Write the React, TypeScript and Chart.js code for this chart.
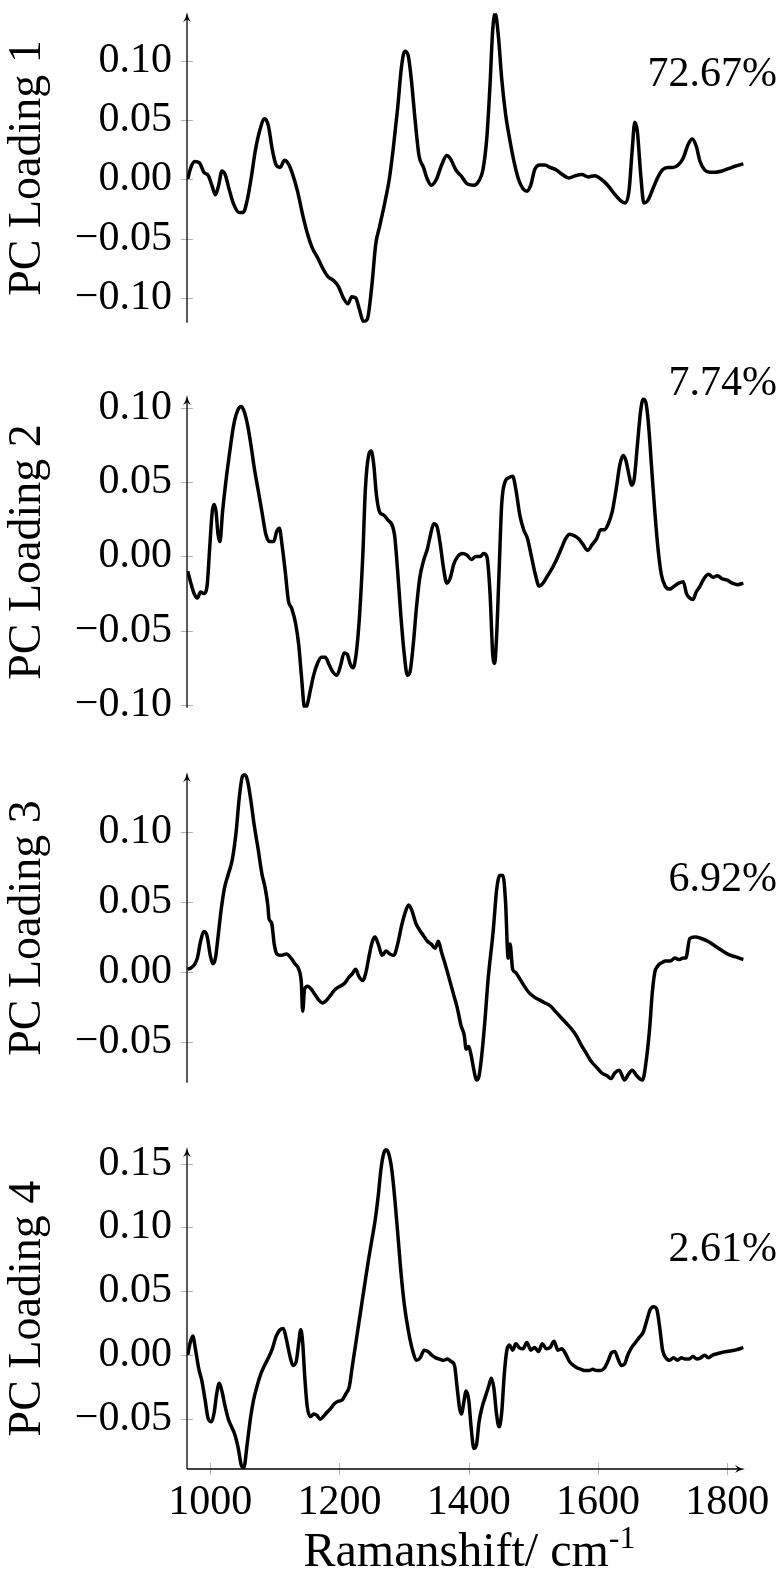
import React, { useEffect, useRef } from "react";
import { Chart, registerables } from "chart.js";

Chart.register(...registerables);

// ---------- data (Raman shift in cm^-1, PC loadings) ----------
const pc1Shift = [965,970,976,983,990,997,1003,1008,1013,1018,1023,1030,1037,1045,1051,1057,1063,1070,1077,1084,1090,1096,1102,1108,1115,1121,1127,1135,1143,1150,1158,1166,1174,1182,1190,1198,1206,1213,1219,1225,1231,1237,1243,1250,1256,1262,1270,1277,1283,1290,1296,1301,1306,1311,1317,1323,1330,1336,1342,1350,1358,1366,1372,1380,1388,1398,1408,1415,1422,1428,1433,1437,1441,1446,1451,1457,1463,1470,1477,1484,1490,1496,1502,1510,1518,1526,1535,1545,1555,1565,1575,1585,1595,1605,1615,1625,1635,1642,1648,1653,1657,1661,1666,1671,1677,1685,1693,1700,1708,1716,1724,1732,1740,1746,1752,1758,1765,1773,1782,1792,1802,1812,1825];
const pc1Loading = [0.000,0.010,0.015,0.014,0.006,0.003,-0.006,-0.013,-0.005,0.007,0.004,-0.010,-0.022,-0.028,-0.028,-0.018,0.000,0.025,0.042,0.051,0.045,0.025,0.012,0.010,0.016,0.013,0.005,-0.010,-0.030,-0.045,-0.058,-0.066,-0.075,-0.082,-0.085,-0.090,-0.100,-0.105,-0.099,-0.100,-0.110,-0.120,-0.118,-0.090,-0.055,-0.040,-0.020,0.000,0.025,0.060,0.095,0.108,0.105,0.085,0.050,0.020,0.010,0.000,-0.005,0.000,0.012,0.020,0.017,0.008,0.003,-0.004,-0.005,-0.002,0.008,0.035,0.080,0.125,0.140,0.120,0.085,0.055,0.035,0.015,0.000,-0.008,-0.010,-0.005,0.008,0.012,0.012,0.010,0.008,0.004,0.001,0.003,0.004,0.002,0.003,0.000,-0.005,-0.012,-0.018,-0.020,-0.010,0.025,0.048,0.040,0.005,-0.020,-0.018,-0.008,0.002,0.008,0.010,0.010,0.012,0.018,0.030,0.034,0.028,0.015,0.008,0.006,0.006,0.007,0.009,0.011,0.013];

const pc2Shift = [965,970,975,980,985,990,995,999,1003,1006,1009,1012,1015,1019,1024,1030,1036,1042,1048,1053,1058,1063,1068,1074,1080,1086,1092,1098,1103,1107,1111,1116,1121,1126,1132,1137,1141,1146,1150,1155,1160,1166,1172,1178,1184,1190,1196,1202,1207,1212,1217,1221,1226,1231,1236,1240,1245,1249,1253,1257,1262,1268,1274,1285,1290,1295,1300,1305,1309,1314,1319,1324,1330,1336,1341,1346,1351,1356,1361,1366,1371,1377,1383,1390,1397,1404,1411,1418,1423,1428,1433,1437,1440,1443,1447,1451,1456,1462,1468,1473,1479,1485,1491,1497,1503,1509,1515,1522,1529,1536,1543,1550,1556,1563,1570,1577,1584,1591,1598,1604,1610,1616,1622,1628,1634,1639,1643,1648,1652,1656,1661,1666,1670,1674,1678,1683,1688,1693,1698,1704,1711,1718,1725,1732,1737,1742,1747,1752,1758,1764,1771,1778,1785,1792,1800,1808,1816,1825];
const pc2Loading = [-0.010,-0.018,-0.025,-0.028,-0.024,-0.025,-0.020,0.005,0.030,0.035,0.030,0.015,0.010,0.030,0.050,0.070,0.088,0.098,0.101,0.097,0.088,0.075,0.060,0.045,0.030,0.015,0.010,0.010,0.017,0.019,0.008,-0.010,-0.030,-0.035,-0.045,-0.060,-0.080,-0.102,-0.100,-0.090,-0.080,-0.072,-0.068,-0.068,-0.073,-0.078,-0.080,-0.073,-0.065,-0.066,-0.073,-0.075,-0.065,-0.040,0.000,0.045,0.068,0.071,0.062,0.042,0.030,0.028,0.025,0.015,-0.010,-0.040,-0.065,-0.080,-0.078,-0.060,-0.035,-0.015,-0.003,0.005,0.015,0.022,0.020,0.008,-0.008,-0.018,-0.015,-0.005,0.000,0.002,0.001,-0.002,0.000,0.000,0.002,0.000,-0.025,-0.065,-0.072,-0.055,-0.010,0.035,0.050,0.053,0.054,0.045,0.028,0.018,0.012,0.000,-0.012,-0.020,-0.018,-0.013,-0.008,-0.002,0.005,0.012,0.015,0.014,0.012,0.008,0.004,0.008,0.012,0.018,0.018,0.022,0.030,0.045,0.062,0.068,0.065,0.055,0.048,0.052,0.075,0.098,0.106,0.104,0.090,0.060,0.030,0.005,-0.012,-0.020,-0.022,-0.020,-0.018,-0.017,-0.025,-0.028,-0.029,-0.024,-0.020,-0.015,-0.012,-0.014,-0.013,-0.015,-0.016,-0.018,-0.019,-0.018];

const pc3Shift = [965,970,975,980,985,990,995,1000,1004,1008,1012,1017,1022,1028,1034,1040,1045,1050,1054,1058,1063,1068,1074,1080,1085,1089,1091,1095,1099,1103,1110,1118,1125,1131,1137,1141,1143,1146,1151,1156,1162,1168,1174,1180,1187,1194,1201,1208,1214,1220,1225,1230,1236,1241,1246,1251,1255,1260,1266,1272,1278,1284,1290,1296,1302,1307,1312,1318,1324,1330,1336,1342,1348,1353,1358,1364,1370,1376,1382,1388,1393,1396,1400,1404,1408,1412,1416,1420,1425,1430,1438,1443,1448,1453,1457,1461,1464,1468,1472,1478,1486,1494,1502,1510,1518,1526,1534,1542,1550,1558,1566,1574,1582,1590,1598,1606,1614,1620,1626,1633,1641,1647,1653,1660,1669,1675,1680,1684,1688,1692,1696,1700,1704,1712,1719,1726,1732,1736,1742,1750,1760,1770,1780,1790,1800,1812,1825];
const pc3Loading = [0.002,0.003,0.005,0.010,0.022,0.029,0.026,0.012,0.006,0.010,0.025,0.045,0.060,0.070,0.080,0.100,0.125,0.140,0.141,0.136,0.122,0.105,0.088,0.070,0.060,0.048,0.038,0.035,0.020,0.013,0.012,0.013,0.010,0.006,0.002,-0.008,-0.028,-0.012,-0.010,-0.012,-0.016,-0.020,-0.022,-0.020,-0.016,-0.012,-0.010,-0.008,-0.004,-0.001,0.002,-0.003,-0.006,0.000,0.012,0.022,0.025,0.020,0.012,0.015,0.013,0.012,0.020,0.033,0.043,0.048,0.044,0.035,0.030,0.026,0.022,0.020,0.017,0.022,0.014,0.005,-0.005,-0.015,-0.025,-0.038,-0.045,-0.055,-0.053,-0.060,-0.070,-0.077,-0.074,-0.060,-0.035,-0.005,0.030,0.058,0.069,0.069,0.050,0.010,0.020,0.002,0.000,-0.004,-0.010,-0.015,-0.018,-0.020,-0.022,-0.024,-0.028,-0.032,-0.036,-0.040,-0.045,-0.052,-0.058,-0.064,-0.068,-0.072,-0.074,-0.076,-0.072,-0.070,-0.077,-0.073,-0.070,-0.074,-0.077,-0.062,-0.040,-0.015,0.000,0.004,0.006,0.007,0.008,0.008,0.010,0.009,0.010,0.010,0.024,0.025,0.024,0.022,0.019,0.016,0.013,0.011,0.009,0.007,0.005];

const pc4Shift = [965,969,973,977,982,987,992,997,1002,1006,1010,1014,1018,1023,1028,1033,1038,1043,1048,1052,1057,1062,1067,1072,1078,1084,1090,1096,1102,1108,1113,1118,1123,1128,1133,1137,1140,1143,1146,1150,1155,1160,1165,1170,1175,1180,1186,1192,1198,1204,1210,1215,1220,1226,1232,1238,1244,1250,1255,1260,1264,1268,1272,1276,1281,1286,1291,1296,1301,1307,1313,1319,1325,1331,1337,1343,1349,1355,1361,1367,1373,1378,1382,1386,1389,1392,1396,1400,1404,1408,1412,1416,1421,1426,1431,1435,1439,1443,1447,1451,1455,1459,1463,1468,1473,1478,1484,1490,1496,1502,1508,1514,1520,1526,1532,1538,1544,1550,1556,1562,1568,1574,1580,1586,1592,1598,1604,1610,1616,1621,1626,1631,1636,1641,1646,1652,1658,1664,1670,1676,1681,1686,1691,1696,1700,1705,1711,1717,1723,1729,1735,1741,1747,1753,1759,1765,1771,1777,1783,1790,1800,1812,1825];
const pc4Loading = [0.000,0.010,0.015,0.005,-0.010,-0.020,-0.035,-0.050,-0.052,-0.045,-0.030,-0.022,-0.028,-0.040,-0.050,-0.056,-0.062,-0.072,-0.086,-0.088,-0.070,-0.050,-0.035,-0.025,-0.015,-0.008,-0.002,0.005,0.015,0.020,0.021,0.012,0.000,-0.008,-0.005,0.010,0.020,0.010,-0.015,-0.040,-0.048,-0.046,-0.047,-0.050,-0.048,-0.045,-0.042,-0.038,-0.036,-0.035,-0.030,-0.025,-0.008,0.012,0.032,0.052,0.072,0.090,0.105,0.125,0.145,0.157,0.161,0.158,0.145,0.120,0.090,0.060,0.037,0.018,0.004,-0.004,-0.002,0.004,0.003,0.000,-0.002,-0.003,-0.004,-0.003,-0.005,-0.008,-0.025,-0.042,-0.046,-0.038,-0.028,-0.035,-0.058,-0.073,-0.070,-0.052,-0.040,-0.032,-0.024,-0.018,-0.026,-0.046,-0.056,-0.045,-0.015,0.004,0.008,0.004,0.009,0.006,0.005,0.010,0.004,0.006,0.003,0.009,0.005,0.006,0.011,0.004,0.005,0.001,-0.005,-0.008,-0.010,-0.011,-0.012,-0.012,-0.011,-0.012,-0.012,-0.010,-0.004,0.002,0.003,-0.003,-0.008,-0.007,0.000,0.006,0.010,0.014,0.018,0.028,0.036,0.038,0.036,0.020,0.004,-0.002,-0.004,-0.002,-0.004,-0.002,-0.003,-0.003,-0.001,-0.003,-0.002,0.000,-0.002,0.000,0.001,0.002,0.003,0.004,0.006];

const loadingTitles = ["PC Loading 1", "PC Loading 2", "PC Loading 3", "PC Loading 4"];
const varianceLabels = ["72.67%", "7.74%", "6.92%", "2.61%"];
const yMins = [-0.121, -0.102, -0.079, -0.089];
const yMaxs = [0.140, 0.108, 0.142, 0.162];
const xTickStep = 200;
const yTickStep = 0.05;
const xAxisTitle = "Ramanshift/ cm";
const xAxisTitleSup = "-1";

const shifts = [pc1Shift, pc2Shift, pc3Shift, pc4Shift];
const loadings = [pc1Loading, pc2Loading, pc3Loading, pc4Loading];

// ---------- layout ----------
const W = 780;
const AXIS_LEFT = 187;
const AXIS_RIGHT = 744;
const X_MIN = 964;
const X_MAX = 1826;
const PANEL_TOPS = [3, 386, 763, 1138];
const PANEL_BOTTOMS = [333, 718, 1093, 1469];
const PAD = 30;
const FONT = "'Liberation Serif', 'Times New Roman', serif";
const LABEL_TOPS = [51, 360, 856, 1226];

const fmt = (v: number) => {
  const a = Math.abs(v).toFixed(2);
  return v < -1e-9 ? "\u2212" + a : a;
};

const axesPlugin = {
  id: "pgfAxes",
  afterDraw(chart: any, _args: any, opts: any) {
    const { ctx, chartArea, scales } = chart;
    const x0 = chartArea.left;
    const yb = chartArea.bottom;
    ctx.save();
    // tick marks
    ctx.strokeStyle = "#b4b4b4";
    ctx.lineWidth = 1;
    scales.y.ticks.forEach((t: any) => {
      const py = Math.round(scales.y.getPixelForValue(t.value)) + 0.5;
      ctx.beginPath();
      ctx.moveTo(x0 - 6, py);
      ctx.lineTo(x0 + 6, py);
      ctx.stroke();
    });
    if (opts.xAxis) {
      scales.x.ticks.forEach((t: any) => {
        const px = Math.round(scales.x.getPixelForValue(t.value)) + 0.5;
        ctx.beginPath();
        ctx.moveTo(px, yb - 6);
        ctx.lineTo(px, yb + 6);
        ctx.stroke();
      });
    }
    // axis lines
    ctx.strokeStyle = "#000";
    ctx.fillStyle = "#000";
    ctx.lineWidth = 1.3;
    ctx.beginPath();
    ctx.moveTo(x0, yb);
    ctx.lineTo(x0, chartArea.top + 4);
    ctx.stroke();
    // up arrow
    const ty = chartArea.top - 1;
    ctx.beginPath();
    ctx.moveTo(x0, ty);
    ctx.quadraticCurveTo(x0 + 1, ty + 6, x0 + 4, ty + 10);
    ctx.lineTo(x0, ty + 7);
    ctx.lineTo(x0 - 4, ty + 10);
    ctx.quadraticCurveTo(x0 - 1, ty + 6, x0, ty);
    ctx.fill();
    if (opts.xAxis) {
      const xr = chartArea.right + 1;
      ctx.beginPath();
      ctx.moveTo(x0, yb);
      ctx.lineTo(xr - 4, yb);
      ctx.stroke();
      ctx.beginPath();
      ctx.moveTo(xr, yb);
      ctx.quadraticCurveTo(xr - 6, yb + 1, xr - 10, yb + 4);
      ctx.lineTo(xr - 7, yb);
      ctx.lineTo(xr - 10, yb - 4);
      ctx.quadraticCurveTo(xr - 6, yb - 1, xr, yb);
      ctx.fill();
    }
    ctx.restore();
  },
};

function Panel({ index }: { index: number }) {
  const ref = useRef<HTMLCanvasElement | null>(null);
  const isLast = index === 3;
  const top = PANEL_TOPS[index] - PAD;
  const height = isLast ? 1581 - top : PANEL_BOTTOMS[index] - PANEL_TOPS[index] + 2 * PAD;

  useEffect(() => {
    if (!ref.current) return;
    const data = shifts[index].map((x, i) => ({ x, y: loadings[index][i] }));
    const chart = new Chart(ref.current, {
      type: "line",
      data: {
        datasets: [
          {
            data,
            borderColor: "#000",
            borderWidth: 3.5,
            pointRadius: 0,
            fill: false,
            cubicInterpolationMode: "monotone",
          },
        ],
      },
      options: {
        animation: false,
        responsive: false,
        maintainAspectRatio: false,
        events: [],
        layout: { padding: { top: PAD, bottom: isLast ? 0 : PAD, left: 0, right: W - AXIS_RIGHT } },
        plugins: {
          legend: { display: false },
          tooltip: { enabled: false },
          pgfAxes: { xAxis: isLast },
        } as any,
        scales: {
          x: {
            type: "linear",
            min: X_MIN,
            max: X_MAX,
            display: isLast,
            grid: { display: false, drawTicks: false },
            border: { display: false },
            ticks: {
              stepSize: xTickStep,
              includeBounds: false,
              autoSkip: false,
              padding: 9,
              maxRotation: 0,
              color: "#000",
              font: { family: FONT, size: 42 },
              callback: (v: any) => String(v),
            },
            afterFit: (s: any) => {
              if (isLast) s.height = 1581 - PANEL_BOTTOMS[3];
            },
          },
          y: {
            type: "linear",
            min: yMins[index],
            max: yMaxs[index],
            grid: { display: false, drawTicks: false },
            border: { display: false },
            ticks: {
              stepSize: yTickStep,
              includeBounds: false,
              autoSkip: false,
              padding: 15,
              color: "#000",
              font: { family: FONT, size: 42 },
              callback: (v: any) => fmt(Number(v)),
            },
            title: {
              display: true,
              text: loadingTitles[index],
              color: "#000",
              padding: 0,
              font: { family: FONT, size: 46, weight: "normal" },
            },
            afterFit: (s: any) => {
              s.width = AXIS_LEFT;
            },
          },
        },
      } as any,
      plugins: [axesPlugin],
    });
    return () => chart.destroy();
  }, [index]);

  return (
    <canvas
      ref={ref}
      width={W}
      height={height}
      style={{ position: "absolute", left: 0, top, width: W, height }}
    />
  );
}

export default function App() {
  return (
    <div
      style={{
        position: "absolute",
        left: 0,
        top: 0,
        width: W,
        height: 1581,
        background: "#fff",
        overflow: "hidden",
        fontFamily: FONT,
        color: "#000",
      }}
    >
      {[0, 1, 2, 3].map((i) => (
        <Panel key={i} index={i} />
      ))}
      {varianceLabels.map((t, i) => (
        <div
          key={t}
          style={{
            position: "absolute",
            left: 500,
            width: 277,
            top: LABEL_TOPS[i],
            textAlign: "right",
            fontSize: 42,
            lineHeight: "42px",
            whiteSpace: "nowrap",
          }}
        >
          {t}
        </div>
      ))}
      <div
        style={{
          position: "absolute",
          left: AXIS_LEFT,
          width: AXIS_RIGHT - AXIS_LEFT + 8,
          top: 1526,
          textAlign: "center",
          fontSize: 48,
          lineHeight: "48px",
          whiteSpace: "nowrap",
        }}
      >
        {xAxisTitle}
        <sup style={{ fontSize: 32, verticalAlign: "0.55em", lineHeight: 0 }}>{xAxisTitleSup}</sup>
      </div>
    </div>
  );
}
